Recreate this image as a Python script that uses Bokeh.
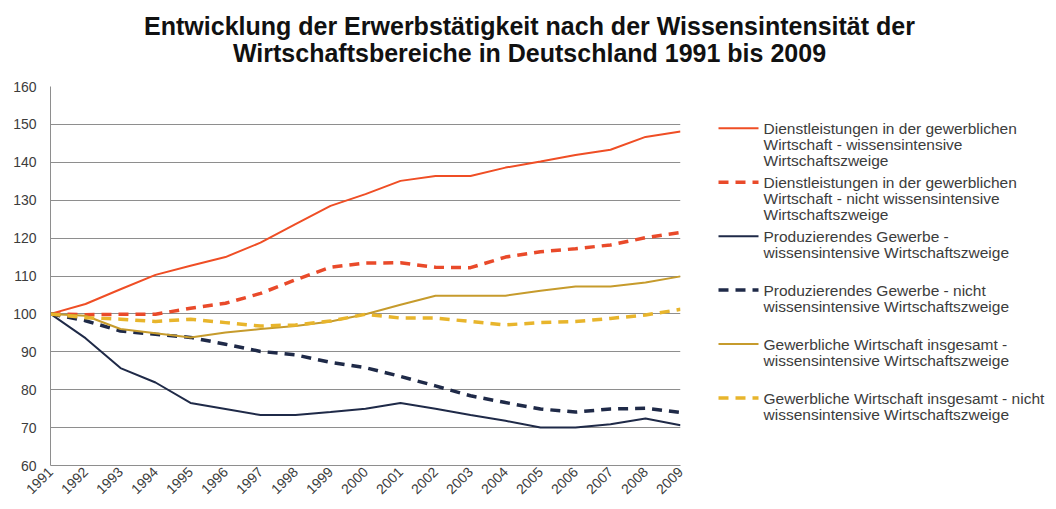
from bokeh.plotting import figure
from bokeh.layouts import column, row
from bokeh.models import Range1d, FixedTicker, ColumnDataSource
from bokeh.core.properties import value
from bokeh.embed import file_html
from bokeh.resources import INLINE
import math

years = list(range(1991, 2010))

dl_wi = [100, 102.6, 106.5, 110.3, 112.7, 115.0, 118.8, 123.7, 128.5, 131.6,
         135.1, 136.4, 136.4, 138.6, 140.2, 141.9, 143.3, 146.7, 148.1]
dl_nwi = [100, 99.8, 99.9, 99.9, 101.5, 102.8, 105.4, 109.0, 112.3, 113.4,
          113.5, 112.3, 112.2, 115.0, 116.4, 117.2, 118.2, 120.1, 121.5]
pg_wi = [100, 93.6, 85.7, 81.9, 76.5, 74.9, 73.3, 73.3, 74.1, 75.0,
         76.5, 75.0, 73.3, 71.8, 70.0, 70.0, 70.9, 72.4, 70.6]
pg_nwi = [100, 98.2, 95.5, 94.6, 93.8, 92.0, 90.1, 89.2, 87.2, 85.8,
          83.5, 81.0, 78.4, 76.6, 74.9, 74.1, 74.9, 75.1, 74.0]
gw_wi = [100, 99.5, 96.0, 94.9, 93.8, 95.1, 96.0, 96.8, 98.0, 99.9,
         102.4, 104.8, 104.8, 104.8, 106.1, 107.2, 107.2, 108.3, 109.9]
gw_nwi = [100, 99.0, 98.6, 98.0, 98.6, 97.7, 96.8, 97.1, 98.1, 99.9,
          98.9, 98.9, 98.0, 97.1, 97.7, 98.0, 98.8, 99.7, 101.2]

series = [dl_wi, dl_nwi, pg_wi, pg_nwi, gw_wi, gw_nwi]
legend_lines = [
    ["Dienstleistungen in der gewerblichen", "Wirtschaft - wissensintensive", "Wirtschaftszweige"],
    ["Dienstleistungen in der gewerblichen", "Wirtschaft - nicht wissensintensive", "Wirtschaftszweige"],
    ["Produzierendes Gewerbe -", "wissensintensive Wirtschaftszweige"],
    ["Produzierendes Gewerbe - nicht", "wissensintensive Wirtschaftszweige"],
    ["Gewerbliche Wirtschaft insgesamt -", "wissensintensive Wirtschaftszweige"],
    ["Gewerbliche Wirtschaft insgesamt - nicht", "wissensintensive Wirtschaftszweige"],
]
colors = ["#EF4E25", "#E94A2A", "#1F2A48", "#1F2A48", "#C69B2C", "#E8B52C"]
widths = [2, 3.5, 2, 3.5, 2, 3.5]
dashes = ["solid", "10 7", "solid", "10 7", "solid", "10 7"]
y_ticks = list(range(60, 170, 10))
title_lines = ["Entwicklung der Erwerbstätigkeit nach der Wissensintensität der",
               "Wirtschaftsbereiche in Deutschland 1991 bis 2009"]

FONT = "Liberation Sans"
TXT = "#3C3C3C"

# title figure (page pixel coordinates)
tf = figure(width=1056, height=78, x_range=Range1d(0, 1056), y_range=Range1d(78, 0),
            output_backend="svg", toolbar_location=None, min_border=0,
            x_axis_type=None, y_axis_type=None, outline_line_color=None)
tf.grid.visible = False
tf.text(x=[529, 529], y=[25, 52], text=title_lines, text_align="center",
        text_baseline="middle", text_font=value(FONT), text_font_style="bold",
        text_font_size="25px", text_color="#111111")

# main chart
p = figure(width=700, height=427, x_range=Range1d(1991, 2009), y_range=Range1d(60, 160),
           output_backend="svg", toolbar_location=None,
           min_border_left=50, min_border_right=20, min_border_top=8, min_border_bottom=40,
           outline_line_color=None)
for s, c, w, d in zip(series, colors, widths, dashes):
    p.line(years, s, line_color=c, line_width=w, line_dash=d)

p.xaxis.ticker = FixedTicker(ticks=years)
p.yaxis.ticker = FixedTicker(ticks=y_ticks)
p.xgrid.visible = False
p.ygrid.grid_line_color = "#8E8E8E"
p.ygrid.grid_line_width = 1
for ax in (p.xaxis, p.yaxis):
    ax.axis_line_color = "#8E8E8E"
    ax.major_tick_line_color = None
    ax.minor_tick_line_color = None
    ax.major_tick_out = 0
    ax.major_tick_in = 0
    ax.major_label_text_font = FONT
    ax.major_label_text_font_size = "14px"
    ax.major_label_text_color = TXT
p.yaxis.major_label_standoff = 14
p.xaxis.major_label_standoff = 4
p.xaxis.major_label_orientation = math.pi / 4

# legend figure (page pixel coordinates)
lf = figure(width=356, height=427, x_range=Range1d(700, 1056), y_range=Range1d(505, 78),
            output_backend="svg", toolbar_location=None, min_border=0,
            x_axis_type=None, y_axis_type=None, outline_line_color=None)
lf.grid.visible = False
tx, ty, tt = [], [], []
for i, (lines, c, w, d) in enumerate(zip(legend_lines, colors, widths, dashes)):
    y0 = 125 + i * 60.8
    lf.line([718, 758], [y0, y0], line_color=c, line_width=w, line_dash=d)
    for j, t in enumerate(lines):
        tx.append(763)
        ty.append(y0 + j * 18.3)
        tt.append(t)
lf.text(x="x", y="y", text="t", source=ColumnDataSource(dict(x=tx, y=ty, t=tt)),
        text_align="left", text_baseline="middle", text_font=value(FONT),
        text_font_size="15.5px", text_color=TXT)

layout = column(tf, row(p, lf))
open("out.html", "w").write(file_html(layout, INLINE))
